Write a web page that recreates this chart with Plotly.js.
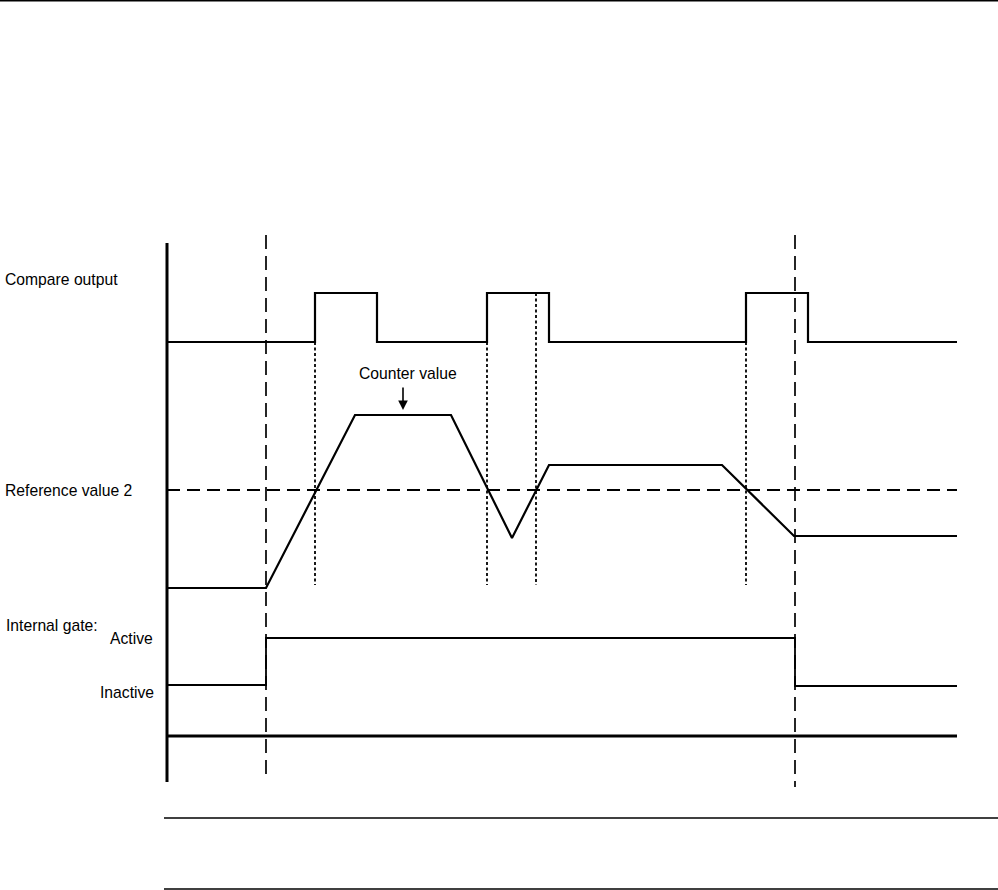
<!DOCTYPE html>
<html>
<head>
<meta charset="utf-8">
<script src="https://cdn.plot.ly/plotly-3.0.1.min.js"></script>
<style>html,body{margin:0;padding:0;background:#fff;}#chart{width:998px;height:890px;}</style>
</head>
<body>
<div id="chart"></div>
<script>
// Time axis (schematic units) and signal levels (schematic units, increasing downward)
const compareTime   = [167,315,315,377,377,487,487,549,549,746,746,808,808,957];
const compareLevel  = [342,342,293,293,342,342,293,293,342,342,293,293,342,342];

const counterTime   = [167,266,355,451,512,549,722,794,957];
const counterValue  = [588,588,415,415,538,465,465,536,536];

const refTime       = [167,957];
const refValue2     = [490,490];

const gateTime      = [167,266,266,795,795,957];
const gateLevel     = [685,685,638,638,686,686];

const gateEventTimes    = [266,795];
const compareEventTimes = [315,487,536,746];
const compareEventTop   = [342,342,293,342];

const labels = ["Compare output","Reference value 2","Internal gate:","Active","Inactive","Counter value"];

const traces = [];
const black = '#000';

// axis frame
traces.push({x:[167,167], y:[243,782], mode:'lines', line:{color:black,width:3}, hoverinfo:'skip'});
traces.push({x:[167,957], y:[736,736], mode:'lines', line:{color:black,width:3}, hoverinfo:'skip'});

// gate event long-dash lines
gateEventTimes.forEach((t,i)=>{
  traces.push({x:[t,t], y:[235, i===0?780:787], mode:'lines', line:{color:black,width:1.7,dash:'14px,7px'}, hoverinfo:'skip'});
});
// compare event dotted lines
compareEventTimes.forEach((t,i)=>{
  traces.push({x:[t,t], y:[compareEventTop[i],585], mode:'lines', line:{color:black,width:1.8,dash:'3px,2.5px'}, hoverinfo:'skip'});
});
// reference value 2
traces.push({x:refTime, y:refValue2, mode:'lines', line:{color:black,width:2,dash:'13px,7px'}, hoverinfo:'skip'});
// compare output
traces.push({x:compareTime, y:compareLevel, mode:'lines', line:{color:black,width:2.2}, hoverinfo:'skip'});
// counter value
traces.push({x:counterTime, y:counterValue, mode:'lines', line:{color:black,width:2.2}, hoverinfo:'skip'});
// internal gate
traces.push({x:gateTime, y:gateLevel, mode:'lines', line:{color:black,width:1.8}, hoverinfo:'skip'});

// page rules
traces.push({x:[0,998], y:[0.8,0.8], mode:'lines', line:{color:black,width:1.6}, hoverinfo:'skip'});
traces.push({x:[164,998], y:[818,818], mode:'lines', line:{color:black,width:1.3}, hoverinfo:'skip'});
traces.push({x:[164,998], y:[889,889], mode:'lines', line:{color:black,width:1.3}, hoverinfo:'skip'});

const f = {family:'"Liberation Sans", Arial, sans-serif', size:15.7, color:'#000'};
const annotations = [
  {x:3, y:279, text:labels[0], xanchor:'left', yanchor:'middle', showarrow:false, font:f},
  {x:3, y:490, text:labels[1], xanchor:'left', yanchor:'middle', showarrow:false, font:f},
  {x:3.5, y:625, text:labels[2], xanchor:'left', yanchor:'middle', showarrow:false, font:f},
  {x:155, y:638, text:labels[3], xanchor:'right', yanchor:'middle', showarrow:false, font:f},
  {x:156, y:692, text:labels[4], xanchor:'right', yanchor:'middle', showarrow:false, font:f},
  {x:408, y:373, text:labels[5], xanchor:'center', yanchor:'middle', showarrow:false, font:f},
  {x:403, y:410, ax:403, ay:386, axref:'x', ayref:'y', text:'', showarrow:true, arrowhead:2, arrowsize:1.2, arrowwidth:1.6, arrowcolor:'#000'}
];

const layout = {
  width:998, height:890,
  margin:{l:0,r:0,t:0,b:0,pad:0},
  paper_bgcolor:'#fff', plot_bgcolor:'#fff',
  showlegend:false,
  xaxis:{range:[0,998], visible:false, fixedrange:true},
  yaxis:{range:[890,0], visible:false, fixedrange:true},
  annotations:annotations
};
Plotly.newPlot('chart', traces, layout, {staticPlot:true, displayModeBar:false});
</script>
</body>
</html>
